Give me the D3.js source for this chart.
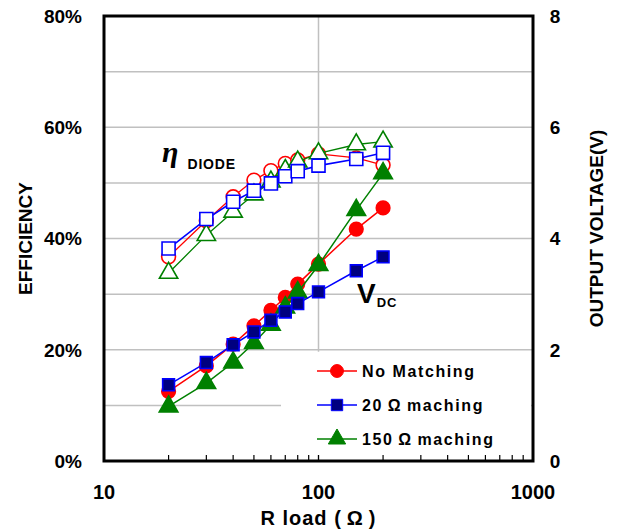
<!DOCTYPE html>
<html>
<head>
<meta charset="utf-8">
<script src="https://cdn.jsdelivr.net/npm/d3@7"></script>
<style>
  body { margin: 0; background: #fff; }
  text { font-family: "Liberation Sans", Arial, sans-serif; font-weight: bold; }
</style>
</head>
<body>
<div id="chart"></div>
<script>
// data
var loads = [20, 30, 40, 50, 60, 70, 80, 100, 150, 200];

var effNoMatch = [36.7, 43.2, 47.5, 50.5, 52.2, 53.5, 54.1, 55.2, 54.5, 53.2];
var eff20 = [38.2, 43.5, 46.6, 48.6, 49.9, 51.2, 52.1, 53.1, 54.3, 55.4];
var eff150 = [33.8, 40.6, 44.8, 47.9, 50.2, 52.3, 53.8, 55.3, 56.9, 57.4];

var vNoMatch = [1.25, 1.71, 2.10, 2.43, 2.71, 2.94, 3.18, 3.54, 4.17, 4.55];
var v20 = [1.37, 1.77, 2.09, 2.32, 2.53, 2.68, 2.83, 3.04, 3.42, 3.67];
var v150 = [0.98, 1.40, 1.77, 2.12, 2.45, 2.76, 3.03, 3.52, 4.51, 5.17];

var effTicks = [0, 20, 40, 60, 80];
var voltTicks = [0, 2, 4, 6, 8];
var xTicks = [10, 100, 1000];
var legendNames = ["No Matching", "20\u2009\u03A9\u2009maching", "150\u2009\u03A9\u2009maching"];

var margin = {top: 16, right: 86, bottom: 70, left: 104};
var W = 619, H = 531;
var width = W - margin.left - margin.right;
var height = H - margin.top - margin.bottom;

var svg = d3.select("#chart").append("svg")
	.attr("width", W)
	.attr("height", H);

var g = svg.append("g")
	.attr("transform", "translate(" + margin.left + "," + margin.top + ")");

var x = d3.scaleLog().domain([10, 1000]).range([0, width]);
var yE = d3.scaleLinear().domain([0, 80]).range([height, 0]);
var yV = d3.scaleLinear().domain([0, 8]).range([height, 0]);

// gridlines
g.selectAll(".hgrid").data(d3.range(10, 80, 10)).enter().append("line")
	.attr("x1", 0).attr("x2", width)
	.attr("y1", function(d) { return yE(d); })
	.attr("y2", function(d) { return yE(d); })
	.attr("stroke", "#c0c0c0").attr("stroke-width", 1.5);

g.append("line")
	.attr("x1", x(100)).attr("x2", x(100))
	.attr("y1", 0).attr("y2", height)
	.attr("stroke", "#c0c0c0").attr("stroke-width", 1.5);

// minor ticks on x axis (inside)
var minor = [];
[10, 100].forEach(function(b) { for (var k = 2; k <= 10; k++) minor.push(b * k); });
g.selectAll(".xt").data(minor.filter(function(d) { return d < 1000; })).enter().append("line")
	.attr("x1", function(d) { return x(d); })
	.attr("x2", function(d) { return x(d); })
	.attr("y1", height).attr("y2", height - 6)
	.attr("stroke", "#000").attr("stroke-width", 1.2);

// legend background hides grid
g.append("rect")
	.attr("x", 177).attr("y", yE(20) + 2)
	.attr("width", width - 179).attr("height", height - yE(20) - 8)
	.attr("fill", "#fff");

// series
var red = "#ff0000", blue = "#0000ff", green = "#008000";

function drawSeries(vals, yScale, color, shape, size, fill, stroke, lw) {
	var pts = loads.map(function(l, i) { return [x(l), yScale(vals[i])]; });
	g.append("path")
		.attr("d", d3.line()(pts))
		.attr("fill", "none")
		.attr("stroke", color)
		.attr("stroke-width", lw);
	g.selectAll(null).data(pts).enter().append("path")
		.attr("d", d3.symbol().type(shape).size(size))
		.attr("transform", function(d) { return "translate(" + d[0] + "," + d[1] + ")"; })
		.attr("fill", fill)
		.attr("stroke", stroke)
		.attr("stroke-width", 1.6);
}

// efficiency (hollow markers)
drawSeries(effNoMatch, yE, red, d3.symbolCircle, 150, "#fff", red, 1.3);
drawSeries(eff150, yE, green, d3.symbolTriangle, 145, "#fff", green, 1.3);
drawSeries(eff20, yE, blue, d3.symbolSquare, 170, "#fff", blue, 1.6);

// output voltage (filled markers)
drawSeries(vNoMatch, yV, red, d3.symbolCircle, 145, red, red, 1.5);
drawSeries(v150, yV, green, d3.symbolTriangle, 150, green, green, 1.5);
drawSeries(v20, yV, blue, d3.symbolSquare, 140, "#000080", blue, 1.5);

// frame
g.append("rect")
	.attr("width", width).attr("height", height)
	.attr("fill", "none").attr("stroke", "#000").attr("stroke-width", 3);

// tick labels
g.selectAll(".ly").data(effTicks).enter().append("text")
	.attr("x", -22).attr("y", function(d) { return yE(d); })
	.attr("dy", "0.36em").attr("text-anchor", "end")
	.attr("font-size", 19)
	.text(function(d) { return d + "%"; });

g.selectAll(".ry").data(voltTicks).enter().append("text")
	.attr("x", width + 22).attr("y", function(d) { return yV(d); })
	.attr("dy", "0.36em").attr("text-anchor", "middle")
	.attr("font-size", 19)
	.text(function(d) { return d; });

g.selectAll(".lx").data(xTicks).enter().append("text")
	.attr("x", function(d) { return x(d); }).attr("y", height + 38)
	.attr("text-anchor", "middle")
	.attr("font-size", 20)
	.text(function(d) { return d; });

// axis titles
svg.append("text")
	.attr("transform", "translate(32," + (margin.top + height / 2) + ") rotate(-90)")
	.attr("text-anchor", "middle").attr("font-size", 19)
	.text("EFFICIENCY");

svg.append("text")
	.attr("transform", "translate(603," + (margin.top + height / 2 - 10) + ") rotate(-90)")
	.attr("text-anchor", "middle").attr("font-size", 19)
	.text("OUTPUT VOLTAGE(V)");

svg.append("text")
	.attr("x", margin.left + x(100)).attr("y", 525)
	.attr("text-anchor", "middle").attr("font-size", 20)
	.attr("letter-spacing", 1)
	.text("R load (\u2009\u03A9\u2009)");

// annotations
var eta = g.append("text").attr("x", 58).attr("y", 146);
eta.append("tspan")
	.attr("font-family", "'Liberation Serif', serif")
	.attr("font-style", "italic")
	.attr("font-size", 30).text("\u03B7");
eta.append("tspan").attr("dx", 9).attr("dy", 7)
	.attr("font-size", 14).attr("letter-spacing", 0.8).text("DIODE");

var vdc = g.append("text").attr("x", 253).attr("y", 287);
vdc.append("tspan").attr("font-size", 28).text("V");
vdc.append("tspan").attr("dx", 1).attr("dy", 4)
	.attr("font-size", 13).attr("letter-spacing", 0.8).text("DC");

// legend
var legColors = [red, blue, green];
var legShapes = [d3.symbolCircle, d3.symbolSquare, d3.symbolTriangle];
var legFill = [red, "#000080", green];
var leg = g.selectAll(".leg").data(legendNames).enter().append("g")
	.attr("transform", function(d, i) { return "translate(213," + (355 + i * 34) + ")"; });
leg.append("line")
	.attr("x1", 0).attr("x2", 40)
	.attr("stroke", function(d, i) { return legColors[i]; })
	.attr("stroke-width", 1.5);
leg.append("path")
	.attr("d", function(d, i) { return d3.symbol().type(legShapes[i]).size(130)(); })
	.attr("transform", "translate(20,0)")
	.attr("fill", function(d, i) { return legFill[i]; })
	.attr("stroke", function(d, i) { return legColors[i]; });
leg.append("text")
	.attr("x", 45).attr("dy", "0.36em")
	.attr("font-size", 16).attr("letter-spacing", 1.6)
	.text(function(d) { return d; });
</script>
</body>
</html>
